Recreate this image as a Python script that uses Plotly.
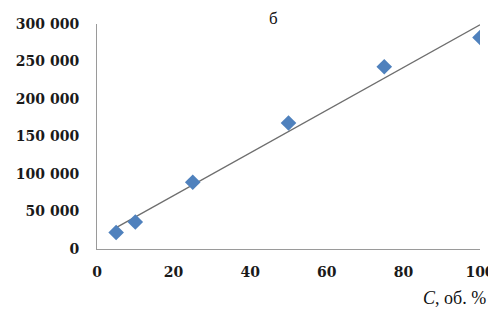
import numpy as np
import plotly.graph_objects as go

concentration = [5, 10, 25, 50, 75, 100]
signal = [22000, 36000, 89000, 168000, 243000, 282000]
y_ticks = [0, 50000, 100000, 150000, 200000, 250000, 300000]
y_tick_labels = ["0", "50 000", "100 000", "150 000", "200 000", "250 000", "300 000"]
x_ticks = [0, 20, 40, 60, 80, 100]

slope, intercept = np.polyfit(concentration, signal, 1)
trend_x = [min(concentration), max(concentration)]
trend_y = [slope * v + intercept for v in trend_x]

fig = go.Figure()
fig.add_trace(go.Scatter(x=trend_x, y=trend_y, mode="lines",
                         line=dict(color="#6e6e6e", width=1.3), showlegend=False))
fig.add_trace(go.Scatter(x=concentration, y=signal, mode="markers",
                         marker=dict(symbol="diamond", size=12, color="#4F81BD"),
                         showlegend=False))

tick_font = dict(family="DejaVu Serif, serif", size=14, color="#1a1a1a")
fig.update_layout(
    width=488, height=303,
    margin=dict(l=89, r=16, t=16, b=62),
    paper_bgcolor="white", plot_bgcolor="white",
    xaxis=dict(range=[0, 100], tickvals=x_ticks, ticktext=[f"<b>{t}</b>" for t in x_ticks],
               showgrid=False, zeroline=False, automargin=False,
               showline=True, linecolor="#9a9a9a", linewidth=1, ticks="",
               tickfont=tick_font, ticklabelstandoff=10),
    yaxis=dict(range=[0, 300000], tickvals=y_ticks, ticktext=[f"<b>{t}</b>" for t in y_tick_labels],
               showgrid=False, zeroline=False, showline=True, linecolor="#9a9a9a",
               automargin=False,
               linewidth=1, ticks="", tickfont=tick_font, ticklabelstandoff=14),
    annotations=[
        dict(text="б", x=(273 - 97) / 383, y=1, xref="paper", yref="paper",
             yanchor="bottom", yshift=-6, showarrow=False,
             font=dict(family="Liberation Serif, serif", size=17, color="#111")),
        dict(text="<i>C</i>, об. %", x=1.0, y=0, xref="paper", yref="paper",
             xanchor="right", yanchor="top", yshift=-37, xshift=8, showarrow=False,
             font=dict(family="Liberation Serif, serif", size=18, color="#111")),
    ],
)
fig.write_html("out.html")
